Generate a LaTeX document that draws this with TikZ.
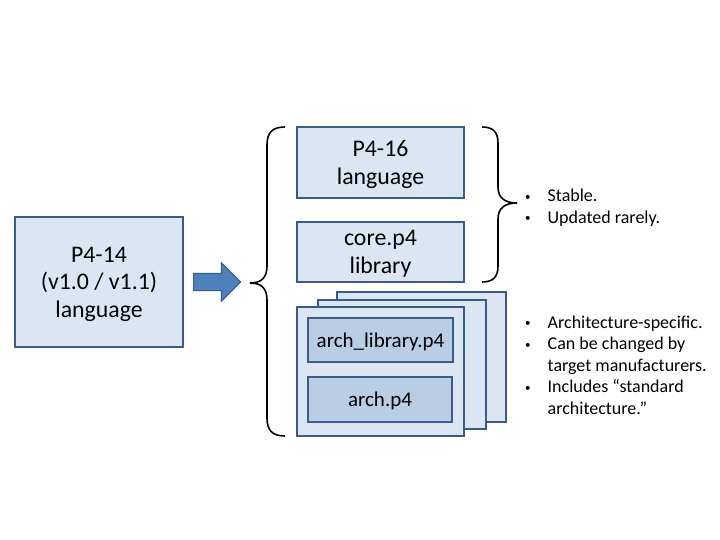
\documentclass[tikz,border=0pt]{standalone}
\usepackage{fontspec}
\setmainfont{Carlito}
\usetikzlibrary{shapes.arrows}
\definecolor{boxfill}{HTML}{DCE6F2}
\definecolor{innerfill}{HTML}{B9CDE5}
\definecolor{boxline}{HTML}{385D8A}
\definecolor{arrowfill}{HTML}{4F81BD}
\newcommand{\bul}{\raisebox{1.5pt}{\fontsize{11}{11}\selectfont •}}
\tikzset{
  pbox/.style={draw=boxline, fill=boxfill, line width=1.8pt, inner sep=0pt, align=center,
    text depth=0pt, font=\fontsize{23.8}{27.5}\selectfont},
  ibox/.style={draw=boxline, fill=innerfill, line width=1.8pt, inner sep=0pt, align=center,
    text depth=0pt, font=\fontsize{21}{25}\selectfont},
  brace/.style={draw=black, line width=1.6pt},
  bullets/.style={anchor=west, inner sep=0pt, font=\fontsize{18}{21.6}\selectfont}
}
\begin{document}
\begin{tikzpicture}[x=1pt,y=-1pt]
\useasboundingbox (0,0) rectangle (720,540);
% left box
\node[pbox, minimum width=168pt, minimum height=130pt] (p414) at (99,282) {P4-14\\(v1.0 / v1.1)\\language};
% block arrow
\node[single arrow, draw=boxline, fill=arrowfill, line width=1.2pt, minimum height=47pt,
  single arrow head extend=10.5pt, single arrow head indent=0pt,
  inner xsep=0pt, inner ysep=8pt, anchor=tail] (arr) at (193,282) {};
% top boxes
\node[pbox, minimum width=167pt, minimum height=71pt] (p416) at (380.5,162.5) {P4-16\\language};
\node[pbox, minimum width=167pt, minimum height=60pt] (core) at (380.5,252) {core.p4\\library};
% stacked boxes
\node[pbox, minimum width=169pt, minimum height=130pt] (back) at (421.5,357) {};
\node[pbox, minimum width=168pt, minimum height=129pt] (mid) at (402,364.5) {};
\node[pbox, minimum width=167pt, minimum height=129pt] (front) at (380.5,371.5) {};
\node[ibox, minimum width=145pt, minimum height=44pt] (archlib) at (380.5,340) {arch\_library.p4};
\node[ibox, minimum width=144pt, minimum height=45pt] (arch) at (380,399.5) {arch.p4};
% left brace
\draw[brace] (285,127) .. controls (273,127) and (267,132) .. (267,145) -- (267,266)
  .. controls (267,278) and (261,283) .. (250,283)
  .. controls (261,283) and (267,288) .. (267,300) -- (267,418)
  .. controls (267,431) and (273,436) .. (285,436);
% right brace
\draw[brace] (482,127) .. controls (493,127) and (498,132) .. (498,143) -- (498,187)
  .. controls (498,198) and (505,203) .. (517,203)
  .. controls (505,203) and (498,208) .. (498,219) -- (498,266)
  .. controls (498,277) and (493,282) .. (482,282);
% bullet texts
\node[bullets] (b1) at (525,208) {\begin{tabular}{@{}l@{\hspace{17pt}}l@{}}\bul&Stable.\\\bul&Updated rarely.\end{tabular}};
\node[bullets] (b2) at (525,367) {\begin{tabular}{@{}l@{\hspace{17pt}}l@{}}\bul&Architecture-specific.\\\bul&Can be changed by\\&target manufacturers.\\\bul&Includes “standard\\&architecture.”\end{tabular}};
\end{tikzpicture}
\end{document}
